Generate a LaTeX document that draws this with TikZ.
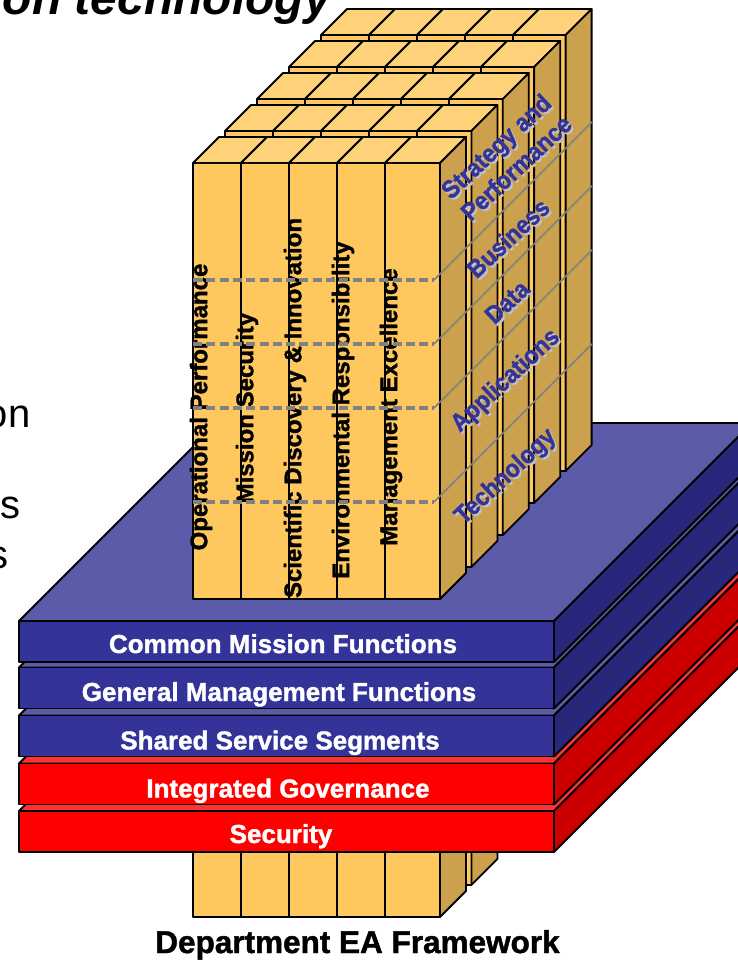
\documentclass[tikz,border=0pt]{standalone}
\usepackage{fontspec}
\setmainfont{Liberation Sans}[BoldFeatures={FakeBold=1.4}]
\usepackage{xcolor}
\definecolor{goldfront}{HTML}{FFC85F}
\definecolor{goldtop}{HTML}{FFD27A}
\definecolor{goldside}{HTML}{CBA14E}
\definecolor{bluefront}{HTML}{333399}
\definecolor{blueside}{HTML}{27277B}
\definecolor{bluetop}{HTML}{5B5BA9}
\definecolor{redfront}{HTML}{FF0000}
\definecolor{redside}{HTML}{CC0000}
\definecolor{redtop}{HTML}{FF3333}
\definecolor{shadowgray}{HTML}{C0C0C0}
\newcommand{\goldstack}[3]{%
  \pgfmathsetmacro{\ox}{32*#1}
  \pgfmathsetmacro{\rx}{440+31.4*#1}
  \pgfmathsetmacro{\ty}{#2-32*#1}
  \pgfmathsetmacro{\by}{#3-32*#1}
  \foreach \c in {0,...,4}{
    \pgfmathsetmacro{\xl}{193+\ox+48*\c}
    \pgfmathsetmacro{\xr}{\c==4?\rx:\xl+48}
    \draw[goldface,fill=goldtop] (\xl,\ty) -- ++(26,-26) -- (\xr+26,\ty-26) -- (\xr,\ty) -- cycle;
    \draw[goldface,fill=goldfront] (\xl,\ty) rectangle (\xr,\by);
  }
  \draw[goldface,fill=goldside] (\rx,\ty) -- ++(26,-26) -- (\rx+26,\by-26) -- (\rx,\by) -- cycle;
}
\begin{document}
\begin{tikzpicture}[x=1pt,y=-1pt]
  \tikzstyle{goldface}=[draw=black,line width=1.8pt,line join=round]
  \tikzstyle{plate}=[draw=black,line width=1.8pt,line join=round]
  \tikzstyle{barlabel}=[text=white,anchor=base,inner sep=0pt,font=\bfseries\fontsize{26}{30}\selectfont]
  \tikzstyle{columnlabel}=[rotate=90,inner sep=0pt,font=\bfseries\fontsize{24}{28}\selectfont]
  \tikzstyle{sidelabel}=[rotate=43,xscale=.92,transform shape,inner sep=0pt,align=center,font=\bfseries\fontsize{25}{29.5}\selectfont]
  \tikzstyle{layerdash}=[draw=gray,line width=3.2pt,dash pattern=on 9pt off 4.3pt]
  \tikzstyle{layerline}=[draw=gray,line width=1.5pt]
  \tikzstyle{bodytext}=[anchor=base east,inner sep=0pt,font=\fontsize{40}{46}\selectfont]
  \useasboundingbox (0,0) rectangle (738,961);
  \clip (0,0) rectangle (738,961);

  % text left over from the slide
  \node[anchor=base east,inner sep=0pt,font=\bfseries\itshape\fontsize{48}{54}\selectfont] (heading) at (331,14) {on technology};
  \node[bodytext] (bodyA) at (30.5,427) {on};
  \node[bodytext] (bodyB) at (21,518) {s};
  \node[bodytext] (bodyC) at (9,568) {s};

  % columns below the plates
  \goldstack{1}{800}{917}
  \goldstack{0}{800}{917}

  % plates, bottom one first
  \foreach \ytop/\cfront/\cside/\ctop/\tx/\by/\lbl/\nm in {
      811/redfront/redside/redtop/281/843/Security/security,
      763.5/redfront/redside/redtop/288/797.5/Integrated Governance/governance,
      715.5/bluefront/blueside/bluetop/280/749.5/Shared Service Segments/shared,
      667.5/bluefront/blueside/bluetop/279/701/General Management Functions/general,
      621/bluefront/blueside/bluetop/283/653/Common Mission Functions/mission}{
    \draw[plate,fill=\ctop] (19,\ytop) -- ++(198,-198) -- ++(535,0) -- (554,\ytop) -- cycle;
    \draw[plate,fill=\cside] (554,\ytop) -- ++(198,-198) -- ++(0,41) -- (554,\ytop+41) -- cycle;
    \draw[plate,fill=\cfront] (19,\ytop) rectangle (554,\ytop+41);
    \node[barlabel] (\nm) at (\tx,\by) {\lbl};
  }

  % columns on top of the plates
  \foreach \k in {4,3,2,1,0}{
    \goldstack{\k}{163}{599}
  }

  \node[columnlabel] (opperf) at (201,407) {Operational Performance};
  \node[columnlabel] (missec) at (247,408) {Mission Security};
  \node[columnlabel] (science) at (295,408) {Scientific Discovery \& Innovation};
  \node[columnlabel] (environ) at (343,410) {Environmental Responsibility};
  \node[columnlabel] (mgmt) at (391,407) {Management Excellence};

  % layer lines
  \coordinate (l1) at (434,280);
  \coordinate (l2) at (434,344);
  \coordinate (l3) at (434,408);
  \coordinate (l4) at (434,502);
  \foreach \l/\ly in {l1/280,l2/344,l3/408,l4/502}{
    \draw[layerdash] (193,\ly) -- (\l);
    \draw[layerline] (\l) -- ++(158,-158);
  }

  % side labels with their shadows
  \foreach \nm/\cx/\cy/\lbl in {strategy/506/157/{Strategy and\\Performance},business/508/238/Business,
      data/507/302/Data,applications/506/381/Applications,technology/506/477/Technology}{
    \node[sidelabel,text=shadowgray] (\nm shadow) at (\cx+2,\cy+2) {\lbl};
    \node[sidelabel,text=bluefront] (\nm) at (\cx,\cy) {\lbl};
  }

  \node[anchor=base,inner sep=0pt,font=\bfseries\fontsize{31.5}{36}\selectfont] (caption) at (357.5,953) {Department EA Framework};
\end{tikzpicture}
\end{document}
